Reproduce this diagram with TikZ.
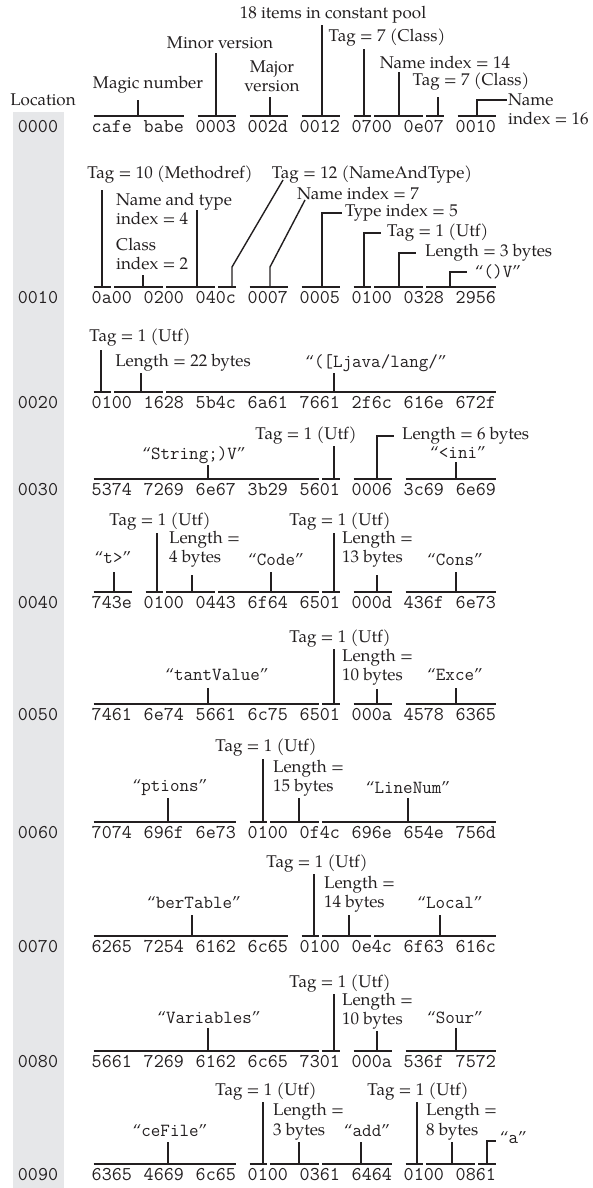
\documentclass[tikz,border=0pt]{standalone}
\usepackage{fontspec}
\setmainfont{TeX Gyre Pagella}
\definecolor{colgrey}{HTML}{E6E7E9}
\definecolor{ink}{HTML}{231F20}
\tikzset{
  lbl/.style={font=\fontsize{17}{19.5}\selectfont, inner sep=0pt, text=ink},
  lblL/.style={lbl, align=left, anchor=west},
  hex/.style={font=\fontsize{19.5}{20}\selectfont\ttfamily, inner sep=0pt, text=ink},
  barline/.style={draw=ink, line width=1.8pt},
  tickline/.style={draw=ink, line width=1.4pt},
}
\newcommand{\qstr}[1]{“{\fontsize{18.5}{20}\selectfont\ttfamily #1}”}
\newcommand{\tagutf}{Tag = 1 (Utf)}
\newcommand{\bytebar}[3]{\draw[barline] ({91+10.4*#2+2.5},#1) -- ({91+10.4*#3-0.5},#1);}
\newcommand{\hexrow}[3]{\foreach \w [count=\k from 0] in {#3} {\node[hex] (#1w\k) at ({111.8+52*\k},#2) {\w};}}
\begin{document}
\begin{tikzpicture}[x=1pt,y=-1pt]
\useasboundingbox (0,0) rectangle (592,1188);
\fill[colgrey] (13,112) rectangle (64,1188);
\node[lbl] (loc) at (43,100) {Location};
\foreach \r/\yy in {0000/127,0010/298,0020/403,0030/490,0040/603,0050/715,0060/833,0070/947,0080/1062,0090/1175}
  {\node[hex] (loc\r) at (38,\yy) {\r};}

% ---------- row 0000
\hexrow{a}{127}{cafe,babe,0003,002d,0012,0700,0e07,0010}
\bytebar{116}{0}{9}\bytebar{116}{10}{14}\bytebar{116}{15}{19}\bytebar{116}{20}{24}
\bytebar{116}{25}{27}\bytebar{116}{27}{32}\bytebar{116}{32}{34}\bytebar{116}{35}{39}
\node[lbl] (magic) at (148,85) {Magic number};
\node[lbl] (minor) at (220,43) {Minor version};
\node[lbl,align=center] (major) at (272,76.5) {Major\\version};
\node[lbl] (items) at (333,15) {18 items in constant pool};
\node[lbl] (tagsa) at (387,38) {Tag = 7 (Class)};
\node[lbl] (namefourteen) at (445,62) {Name index = 14};
\node[lbl] (tagsb) at (471,82) {Tag = 7 (Class)};
\node[lblL] (namesixteen) at (508,109.5) {Name\\index = 16};
\draw[tickline] (138,116) -- (138,100);
\draw[tickline] (216,116) -- (216,53);
\draw[tickline] (270,116) -- (270,97);
\draw[tickline] (322,116) -- (322,25);
\draw[tickline] (364,116) -- (364,49);
\draw[tickline] (399,116) -- (399,72);
\draw[tickline] (438,116) -- (438,97);
\draw[tickline] (477,116) -- (477,100) -- (507,100);

% ---------- row 0010
\hexrow{b}{298}{0a00,0200,040c,0007,0005,0100,0328,2956}
\bytebar{287}{0}{2}\bytebar{287}{2}{7}\bytebar{287}{7}{12}\bytebar{287}{12}{14}
\bytebar{287}{15}{19}\bytebar{287}{20}{24}\bytebar{287}{25}{27}\bytebar{287}{27}{32}\bytebar{287}{32}{39}
\node[lbl] (tagten) at (170,175) {Tag = 10 (Methodref)};
\node[lblL] (ntfour) at (116,209) {Name and type\\index = 4};
\node[lblL] (clstwo) at (116,254) {Class\\index = 2};
\node[lbl] (tagtwelve) at (372,175) {Tag = 12 (NameAndType)};
\node[lbl] (nameseven) at (358,193) {Name index = 7};
\node[lbl,anchor=west] (typefive) at (345,213) {Type index = 5};
\node[lbl,anchor=west] (tagub) at (387,233) {\tagutf};
\node[lbl,anchor=west] (lenthree) at (425,253) {Length = 3 bytes};
\node[lbl,anchor=west] (qv) at (475,272) {\qstr{()V}};
\draw[tickline] (102,287) -- (102,190);
\draw[tickline] (143,287) -- (143,275);
\draw[tickline] (197,287) -- (197,210);
\draw[tickline] (232,287) -- (232,267) -- (283,180);
\draw[tickline] (270,287) -- (270,267) -- (305,200);
\draw[tickline] (322,287) -- (322,213) -- (342,213);
\draw[tickline] (364,287) -- (364,233) -- (381,233);
\draw[tickline] (399,287) -- (399,253) -- (416,253);
\draw[tickline] (450,287) -- (450,272) -- (467,272);

% ---------- row 0020
\hexrow{c}{403}{0100,1628,5b4c,6a61,7661,2f6c,616e,672f}
\bytebar{392}{0}{2}\bytebar{392}{2}{7}\bytebar{392}{7}{39}
\node[lbl] (taguc) at (140,338) {\tagutf};
\node[lbl] (lentt) at (183,363) {Length = 22 bytes};
\node[lbl] (ljava) at (376,363) {\qstr{([Ljava/lang/}};
\draw[tickline] (101,392) -- (101,350);
\draw[tickline] (141,392) -- (141,373);
\draw[tickline] (334,392) -- (334,373);

% ---------- row 0030
\hexrow{d}{490}{5374,7269,6e67,3b29,5601,0006,3c69,6e69}
\bytebar{479}{0}{22}\bytebar{479}{22}{24}\bytebar{479}{25}{29}\bytebar{479}{30}{39}
\node[lbl] (strv) at (194,455) {\qstr{String;)V}};
\node[lbl] (tagud) at (306,436) {\tagutf};
\node[lbl,anchor=west] (lensix) at (402,436) {Length = 6 bytes};
\node[lbl] (ini) at (458,452) {\qstr{<ini}};
\draw[tickline] (208,479) -- (208,465);
\draw[tickline] (334,479) -- (334,446);
\draw[tickline] (377,479) -- (377,436) -- (394,436);
\draw[tickline] (456,479) -- (456,462);

% ---------- row 0040
\hexrow{e}{603}{743e,0100,0443,6f64,6501,000d,436f,6e73}
\bytebar{592}{0}{4}\bytebar{592}{5}{7}\bytebar{592}{7}{12}\bytebar{592}{12}{22}
\bytebar{592}{22}{24}\bytebar{592}{25}{29}\bytebar{592}{30}{39}
\node[lbl] (tgt) at (113,558) {\qstr{t>}};
\node[lbl] (tague) at (160,522) {\tagutf};
\node[lblL] (lenfour) at (169,549) {Length =\\4 bytes};
\node[lbl] (code) at (276,560) {\qstr{Code}};
\node[lbl] (taguf) at (340,522) {\tagutf};
\node[lblL] (lenthirteen) at (342,549) {Length =\\13 bytes};
\node[lbl] (cons) at (455,560) {\qstr{Cons}};
\draw[tickline] (114,592) -- (114,572);
\draw[tickline] (157,592) -- (157,533);
\draw[tickline] (192,592) -- (192,575);
\draw[tickline] (271,592) -- (271,572);
\draw[tickline] (334,592) -- (334,533);
\draw[tickline] (377,592) -- (377,575);
\draw[tickline] (456,592) -- (456,572);

% ---------- row 0050
\hexrow{f}{715}{7461,6e74,5661,6c75,6501,000a,4578,6365}
\bytebar{704}{0}{22}\bytebar{704}{22}{24}\bytebar{704}{25}{29}\bytebar{704}{30}{39}
\node[lbl] (tant) at (217,675) {\qstr{tantValue}};
\node[lbl] (tagug) at (340,639) {\tagutf};
\node[lblL] (lenten) at (342,667) {Length =\\10 bytes};
\node[lbl] (exce) at (455,675) {\qstr{Exce}};
\draw[tickline] (208,704) -- (208,688);
\draw[tickline] (334,704) -- (334,649);
\draw[tickline] (377,704) -- (377,689);
\draw[tickline] (456,704) -- (456,688);

% ---------- row 0060
\hexrow{g}{833}{7074,696f,6e73,0100,0f4c,696e,654e,756d}
\bytebar{822}{0}{14}\bytebar{822}{15}{17}\bytebar{822}{17}{22}\bytebar{822}{22}{39}
\node[lbl] (ptions) at (170,788) {\qstr{ptions}};
\node[lbl] (taguh) at (266,748) {\tagutf};
\node[lblL] (lenfifteen) at (273,778) {Length =\\15 bytes};
\node[lbl] (linenum) at (408,788) {\qstr{LineNum}};
\draw[tickline] (168,822) -- (168,798);
\draw[tickline] (263,822) -- (263,759);
\draw[tickline] (299,822) -- (299,798);
\draw[tickline] (408,822) -- (408,798);

% ---------- row 0070
\hexrow{h}{947}{6265,7254,6162,6c65,0100,0e4c,6f63,616c}
\bytebar{936}{0}{19}\bytebar{936}{20}{22}\bytebar{936}{22}{27}\bytebar{936}{27}{39}
\node[lbl] (bertable) at (194,903) {\qstr{berTable}};
\node[lbl] (tagui) at (317,864) {\tagutf};
\node[lblL] (lenfourteen) at (324,894) {Length =\\14 bytes};
\node[lbl] (local) at (450,903) {\qstr{Local}};
\draw[tickline] (192,936) -- (192,915);
\draw[tickline] (314,936) -- (314,874);
\draw[tickline] (349,936) -- (349,915);
\draw[tickline] (440,936) -- (440,915);

% ---------- row 0080
\hexrow{i}{1062}{5661,7269,6162,6c65,7301,000a,536f,7572}
\bytebar{1051}{0}{22}\bytebar{1051}{22}{24}\bytebar{1051}{25}{29}\bytebar{1051}{30}{39}
\node[lbl] (variables) at (209,1018) {\qstr{Variables}};
\node[lbl] (taguj) at (340,984) {\tagutf};
\node[lblL] (lentenb) at (342,1011) {Length =\\10 bytes};
\node[lbl] (sour) at (455,1018) {\qstr{Sour}};
\draw[tickline] (208,1051) -- (208,1028);
\draw[tickline] (334,1051) -- (334,994);
\draw[tickline] (377,1051) -- (377,1031);
\draw[tickline] (456,1051) -- (456,1028);

% ---------- row 0090
\hexrow{j}{1175}{6365,4669,6c65,0100,0361,6464,0100,0861}
\bytebar{1164}{0}{14}\bytebar{1164}{15}{17}\bytebar{1164}{17}{22}\bytebar{1164}{22}{29}
\bytebar{1164}{30}{32}\bytebar{1164}{32}{37}\bytebar{1164}{37}{39}
\node[lbl] (cefile) at (170,1131) {\qstr{ceFile}};
\node[lbl] (taguk) at (266,1092) {\tagutf};
\node[lblL] (lenthreeb) at (273,1121.5) {Length =\\3 bytes};
\node[lbl] (add) at (367,1131) {\qstr{add}};
\node[lbl] (tagul) at (418,1092) {\tagutf};
\node[lblL] (leneight) at (426,1121.5) {Length =\\8 bytes};
\node[lbl,anchor=west] (qa) at (500,1138) {\qstr{a}};
\draw[tickline] (168,1164) -- (168,1142);
\draw[tickline] (263,1164) -- (263,1102);
\draw[tickline] (299,1164) -- (299,1142);
\draw[tickline] (361,1164) -- (361,1142);
\draw[tickline] (417,1164) -- (417,1102);
\draw[tickline] (452,1164) -- (452,1142);
\draw[tickline] (487,1164) -- (487,1141) -- (496,1141);
\end{tikzpicture}
\end{document}
